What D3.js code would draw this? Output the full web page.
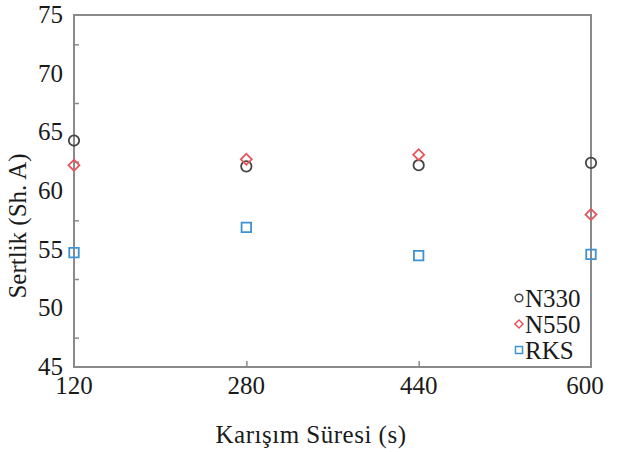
<!DOCTYPE html>
<html>
<head>
<meta charset="utf-8">
<script src="https://cdn.jsdelivr.net/npm/d3@7"></script>
<style>
  body { margin: 0; background: #fff; }
</style>
</head>
<body>
<svg id="chart" width="617" height="452"></svg>
<script>
const times = [120, 280, 440, 600];
const n330 = [64.3, 62.1, 62.2, 62.4];
const n550 = [62.2, 62.7, 63.1, 58.0];
const rks = [54.75, 56.9, 54.5, 54.6];
const seriesNames = ['N330', 'N550', 'RKS'];
const yTicks = [45, 50, 55, 60, 65, 70, 75];
const yMinor = [47.5, 52.5, 57.5, 62.5, 67.5, 72.5];

const serif = 'Liberation Serif';
const svg = d3.select('#chart');
const plotLeft = 74, plotRight = 591, plotTop = 15, plotBottom = 367;

const x = d3.scaleLinear().domain([120, 600]).range([plotLeft, plotRight]);
const y = d3.scaleLinear().domain([45, 75]).range([plotBottom, plotTop]);

const axisColor = '#8a8a8a';
const textColor = '#1a1a1a';

// inner ticks
svg.append('g')
  .attr('transform', `translate(${plotLeft},0)`)
  .call(d3.axisRight(y).tickValues(yMinor).tickSize(5).tickFormat(''))
  .call(g => g.select('.domain').remove())
  .call(g => g.selectAll('line').attr('stroke', axisColor).attr('stroke-width', 1.5));

svg.append('g')
  .attr('transform', `translate(0,${plotBottom})`)
  .call(d3.axisTop(x).tickValues([280, 440]).tickSize(6).tickFormat(''))
  .call(g => g.select('.domain').remove())
  .call(g => g.selectAll('line').attr('stroke', axisColor).attr('stroke-width', 1.5));

// frame
svg.append('rect')
  .attr('x', plotLeft).attr('y', plotTop)
  .attr('width', plotRight - plotLeft).attr('height', plotBottom - plotTop)
  .attr('fill', 'none').attr('stroke', axisColor).attr('stroke-width', 2);

// tick labels
svg.append('g')
  .selectAll('text')
  .data(yTicks)
  .join('text')
  .attr('x', plotLeft - 11)
  .attr('y', d => y(d) + 8)
  .attr('text-anchor', 'end')
  .attr('font-family', serif)
  .attr('font-size', 25)
  .attr('fill', textColor)
  .text(d => d);

svg.append('g')
  .selectAll('text')
  .data(times)
  .join('text')
  .attr('x', d => x(d) - (d === 600 ? 6 : 0))
  .attr('y', plotBottom + 27)
  .attr('text-anchor', 'middle')
  .attr('font-family', serif)
  .attr('font-size', 25)
  .attr('fill', textColor)
  .text(d => d);

// axis titles
svg.append('text')
  .attr('transform', 'translate(26,226) rotate(-90)')
  .attr('text-anchor', 'middle')
  .attr('font-family', serif)
  .attr('font-size', 25)
  .attr('fill', textColor)
  .text('Sertlik (Sh. A)');

svg.append('text')
  .attr('x', 311).attr('y', 443)
  .attr('text-anchor', 'middle')
  .attr('font-family', serif)
  .attr('font-size', 25)
  .attr('letter-spacing', 0.5)
  .attr('fill', textColor)
  .text('Karışım Süresi (s)');

const colors = ['#444444', '#e8555c', '#3d92d2'];
const shapes = [d3.symbolCircle, d3.symbolSquare, d3.symbolSquare];
const rotations = [0, 45, 0];
const sizes = [85, 60, 90];
const data = [n330, n550, rks];

data.forEach((vals, i) => {
  svg.append('g')
    .selectAll('path')
    .data(vals)
    .join('path')
    .attr('transform', (d, j) => `translate(${x(times[j])},${y(d)}) rotate(${rotations[i]})`)
    .attr('d', d3.symbol().type(shapes[i]).size(sizes[i]))
    .attr('fill', 'none')
    .attr('stroke', colors[i])
    .attr('stroke-width', 1.8);
});

// legend
const legend = svg.append('g');
seriesNames.forEach((name, i) => {
  const ly = 298 + i * 26;
  legend.append('path')
    .attr('transform', `translate(519,${ly}) rotate(${rotations[i]})`)
    .attr('d', d3.symbol().type(shapes[i]).size(sizes[i] * 0.55))
    .attr('fill', 'none')
    .attr('stroke', colors[i])
    .attr('stroke-width', 1.5);
  legend.append('text')
    .attr('x', 525)
    .attr('y', ly + 9)
    .attr('font-family', serif)
    .attr('font-size', 25)
    .attr('fill', textColor)
    .text(name);
});
</script>
</body>
</html>
